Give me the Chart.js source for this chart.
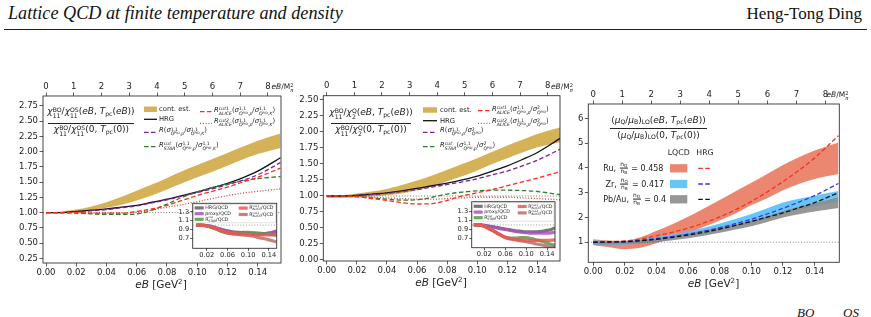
<!DOCTYPE html>
<html>
<head>
<meta charset="utf-8">
<title>Lattice QCD at finite temperature and density</title>
<script src="https://cdn.jsdelivr.net/npm/chart.js@4.4.1/dist/chart.umd.min.js"></script>
<style>
  body { margin: 0; width: 871px; height: 317px; overflow: hidden; background: #fff; position: relative;
         font-family: "DejaVu Sans", sans-serif; color: #222; }
  canvas { position: absolute; }
  .t { position: absolute; white-space: nowrap; line-height: 1; transform: translateY(-50%); }
  .ss { display: inline-flex; flex-direction: column; font-size: 0.68em; line-height: 1; vertical-align: 0.35em; }
  .sb { font-size: 0.68em; vertical-align: -0.3em; line-height: 0; }
  .sp { font-size: 0.68em; vertical-align: 0.5em; line-height: 0; }
  .pid { font-size: 0.7em; vertical-align: 0.4em; }
  .fr { display: inline-flex; flex-direction: column; align-items: center; font-size: 0.74em; line-height: 1;
        vertical-align: middle; margin: 0 1px; }
  .fr > span { display: block; padding: 0 0.5px; }
  .fr > span:first-child { border-bottom: 0.7px solid #222; }
  .fr .q { font-size: 0.72em; position: relative; top: 0.25em; }
  .bar { position: absolute; height: 0; border-top: 0.8px solid #222; }
  .hdr { position: absolute; font-family: "Liberation Serif", serif; font-size: 17px; color: #111; line-height: 1; }
</style>
</head>
<body>
<div class="hdr" style="left:8px;top:4px;font-style:italic;font-size:18.2px">Lattice QCD at finite temperature and density</div>
<div class="hdr" style="right:9px;top:5px">Heng-Tong Ding</div>
<div style="position:absolute;left:4px;top:29px;width:863px;border-top:1px solid #222"></div>
<div class="hdr" style="left:797px;top:306px;font-style:italic;font-size:13px">BO</div>
<div class="hdr" style="left:843px;top:306px;font-style:italic;font-size:13px">OS</div>

<canvas id="c1"></canvas>
<canvas id="c2"></canvas>
<canvas id="c3"></canvas>
<canvas id="i1"></canvas>
<canvas id="i2"></canvas>

<script>
// ==================== Data ====================
const mpi2 = 0.01835; // M_pi^2 in GeV^2, for the top axis
const eB = [0, 0.01, 0.02, 0.03, 0.04, 0.05, 0.06, 0.07, 0.08, 0.09, 0.10, 0.11, 0.12, 0.13, 0.14, 0.155];

const eBTicks = [0, 0.02, 0.04, 0.06, 0.08, 0.10, 0.12, 0.14];
const topTicks = [0, 1, 2, 3, 4, 5, 6, 7, 8];
const yTicks1 = [0.25, 0.5, 0.75, 1.0, 1.25, 1.5, 1.75, 2.0, 2.25, 2.5, 2.75];
const yTicks2 = [0, 0.25, 0.5, 0.75, 1.0, 1.25, 1.5, 1.75, 2.0, 2.25, 2.5];
const yTicks3 = [1, 2, 3, 4, 5, 6];
const insetXTicks = [0.02, 0.06, 0.10, 0.14];
const insetYTicks = [0.7, 0.9, 1.1, 1.3];

// panel 1: chi11^BO / chi11^OS
const contLo1 = [0.99, 1.00, 1.01, 1.04, 1.08, 1.13, 1.20, 1.28, 1.38, 1.48, 1.58, 1.67, 1.77, 1.87, 1.96, 2.06];
const contHi1 = [1.01, 1.02, 1.05, 1.10, 1.17, 1.26, 1.36, 1.46, 1.57, 1.68, 1.78, 1.88, 1.98, 2.08, 2.18, 2.30];
const hrg1    = [1.00, 1.00, 1.02, 1.04, 1.06, 1.09, 1.12, 1.17, 1.22, 1.28, 1.34, 1.41, 1.48, 1.57, 1.68, 1.90];
const proxy1  = [1.00, 1.00, 1.01, 1.03, 1.05, 1.08, 1.11, 1.16, 1.21, 1.27, 1.33, 1.39, 1.46, 1.53, 1.62, 1.82];
const star1   = [1.00, 1.00, 0.99, 0.98, 0.97, 0.97, 0.98, 1.04, 1.14, 1.25, 1.34, 1.41, 1.47, 1.52, 1.56, 1.59];
const alice1  = [1.00, 1.00, 1.00, 0.99, 0.99, 0.99, 1.02, 1.06, 1.12, 1.20, 1.28, 1.35, 1.42, 1.50, 1.58, 1.73];
const alice2  = [1.00, 1.00, 1.00, 0.99, 0.99, 0.99, 1.01, 1.04, 1.09, 1.13, 1.18, 1.23, 1.28, 1.32, 1.35, 1.39];

// panel 2: chi11^BO / chi2^Q
const contLo2 = [0.97, 0.97, 0.98, 0.99, 1.01, 1.04, 1.09, 1.15, 1.23, 1.31, 1.40, 1.50, 1.59, 1.68, 1.76, 1.84];
const contHi2 = [1.00, 1.01, 1.04, 1.07, 1.11, 1.17, 1.24, 1.32, 1.41, 1.50, 1.59, 1.69, 1.79, 1.88, 1.97, 2.07];
const hrg2    = [1.00, 1.00, 1.01, 1.03, 1.05, 1.08, 1.12, 1.16, 1.20, 1.25, 1.31, 1.39, 1.47, 1.57, 1.68, 1.90];
const proxy2  = [1.00, 1.00, 1.01, 1.02, 1.04, 1.07, 1.10, 1.14, 1.18, 1.22, 1.27, 1.33, 1.39, 1.47, 1.56, 1.73];
const star2   = [1.00, 1.00, 0.99, 0.97, 0.95, 0.935, 0.94, 0.98, 1.03, 1.06, 1.08, 1.09, 1.09, 1.085, 1.07, 1.02];
const aliceB1 = [1.00, 1.00, 0.99, 0.96, 0.93, 0.895, 0.875, 0.88, 0.93, 1.00, 1.05, 1.10, 1.16, 1.22, 1.28, 1.38];
const aliceB2 = [1.00, 1.00, 0.99, 0.98, 0.97, 0.96, 0.95, 0.95, 0.96, 0.97, 0.98, 0.98, 0.98, 0.97, 0.96, 0.94];

// panel 3: (mu_Q/mu_B)_LO
const ruLo  = [0.88, 0.80, 0.72, 0.78, 0.96, 1.16, 1.37, 1.62, 1.88, 2.16, 2.50, 2.78, 3.10, 3.35, 3.55, 3.75];
const ruHi  = [1.12, 1.07, 1.06, 1.20, 1.46, 1.73, 2.03, 2.36, 2.70, 3.06, 3.40, 3.75, 4.12, 4.43, 4.70, 5.03];
const zrLo  = [0.90, 0.89, 0.90, 0.96, 1.05, 1.13, 1.23, 1.34, 1.46, 1.60, 1.76, 1.94, 2.13, 2.30, 2.45, 2.62];
const zrHi  = [1.08, 1.05, 1.05, 1.11, 1.22, 1.32, 1.43, 1.58, 1.76, 1.94, 2.14, 2.37, 2.60, 2.76, 2.88, 3.07];
const pbLo  = [0.90, 0.90, 0.92, 0.95, 1.01, 1.08, 1.16, 1.26, 1.38, 1.51, 1.65, 1.82, 2.00, 2.13, 2.24, 2.38];
const pbHi  = [1.05, 1.03, 1.03, 1.08, 1.17, 1.26, 1.36, 1.47, 1.60, 1.74, 1.88, 2.06, 2.26, 2.43, 2.58, 2.82];
const hrgRu = [1.00, 1.01, 1.05, 1.13, 1.26, 1.40, 1.57, 1.78, 2.02, 2.31, 2.65, 3.03, 3.45, 3.90, 4.40, 5.30];
const hrgZr = [1.00, 1.01, 1.03, 1.08, 1.15, 1.23, 1.33, 1.45, 1.59, 1.75, 1.93, 2.14, 2.37, 2.62, 2.88, 3.37];
const hrgPb = [1.00, 1.01, 1.02, 1.06, 1.12, 1.20, 1.29, 1.40, 1.53, 1.68, 1.84, 2.01, 2.19, 2.39, 2.60, 3.00];

// insets: ratio to QCD
const in1Hrg    = [1.00, 1.00, 0.99, 0.97, 0.93, 0.90, 0.87, 0.85, 0.84, 0.83, 0.82, 0.81, 0.80, 0.81, 0.82, 0.87];
const in1Proxy  = [1.00, 1.00, 0.99, 0.97, 0.93, 0.89, 0.86, 0.84, 0.83, 0.82, 0.81, 0.80, 0.80, 0.81, 0.82, 0.86];
const in1Star   = [1.00, 1.00, 0.98, 0.95, 0.90, 0.85, 0.82, 0.81, 0.82, 0.84, 0.84, 0.83, 0.82, 0.81, 0.80, 0.77];
const in1Alice1 = [1.00, 1.00, 0.98, 0.95, 0.91, 0.87, 0.83, 0.81, 0.80, 0.80, 0.80, 0.79, 0.78, 0.78, 0.78, 0.79];
const in1Alice2 = [1.00, 1.00, 0.98, 0.95, 0.91, 0.87, 0.83, 0.81, 0.79, 0.78, 0.77, 0.75, 0.72, 0.70, 0.67, 0.62];
const in2Hrg    = [1.00, 1.00, 0.99, 0.97, 0.95, 0.93, 0.91, 0.89, 0.87, 0.86, 0.85, 0.85, 0.85, 0.86, 0.88, 0.93];
const in2Proxy  = [1.00, 1.00, 0.99, 0.97, 0.95, 0.92, 0.90, 0.88, 0.86, 0.84, 0.83, 0.82, 0.82, 0.82, 0.82, 0.84];
const in2Star   = [1.00, 1.00, 0.97, 0.92, 0.86, 0.79, 0.73, 0.71, 0.71, 0.72, 0.72, 0.70, 0.67, 0.64, 0.60, 0.55];
const in2Alice1 = [1.00, 1.00, 0.97, 0.91, 0.85, 0.78, 0.73, 0.70, 0.68, 0.67, 0.66, 0.66, 0.66, 0.66, 0.66, 0.67];
const in2Alice2 = [1.00, 1.00, 0.97, 0.91, 0.85, 0.78, 0.72, 0.69, 0.67, 0.65, 0.63, 0.61, 0.58, 0.56, 0.53, 0.50];

// ==================== Styles ====================
const GOLD = '#d5b257', BLACK = '#111', PURPLE = '#7b1fa2', GREEN = '#2e7d32', RED = '#ff2a1a', DOTRED = '#d4402e';
const RU = 'rgba(232,118,92,0.88)', ZR = 'rgba(95,195,248,0.95)', PB = 'rgba(140,140,140,0.9)';
const DASH = [4.5, 2.5], DOT = [1, 1.8];

// ==================== Helpers ====================
const pts = ys => eB.map((x, i) => ({ x: x, y: ys[i] }));

function line(ys, color, dash, width) {
    return { data: pts(ys), borderColor: color, borderDash: dash || [], borderWidth: width || 1.3,
             pointRadius: 0, fill: false, cubicInterpolationMode: 'monotone' };
}

function band(lo, hi, color) {
    return [
        { data: pts(lo), borderColor: 'transparent', borderWidth: 0, pointRadius: 0, fill: false, cubicInterpolationMode: 'monotone' },
        { data: pts(hi), borderColor: 'transparent', borderWidth: 0, pointRadius: 0, fill: '-1', backgroundColor: color, cubicInterpolationMode: 'monotone' }
    ];
}

function unity(xmin, xmax, width) {
    return { data: [{ x: xmin, y: 1 }, { x: xmax, y: 1 }], borderColor: '#555', borderDash: DOT,
             borderWidth: width || 0.8, pointRadius: 0, fill: false };
}

const fixTicks = list => s => { s.ticks = list.map(v => ({ value: v })); };
const tickGrid = len => ({ drawOnChartArea: false, tickLength: len, tickColor: '#333', tickWidth: 0.8 });

function mainScales(p) {
    const tf = { family: 'DejaVu Sans', size: 8.5 };
    return {
        x: {
            type: 'linear', position: 'bottom', min: p.xmin, max: p.xmax,
            afterBuildTicks: fixTicks(eBTicks), afterFit: s => { s.height = p.bottomH; },
            ticks: { font: tf, color: '#222', padding: 1, maxRotation: 0, autoSkip: false, callback: v => v.toFixed(2) },
            grid: tickGrid(3.5), border: { display: false }
        },
        xt: {
            type: 'linear', position: 'top', min: p.xmin / mpi2, max: p.xmax / mpi2,
            afterBuildTicks: fixTicks(topTicks), afterFit: s => { s.height = p.topH; },
            ticks: { font: tf, color: '#222', padding: 1, maxRotation: 0, autoSkip: false, callback: v => String(v) },
            grid: tickGrid(3.5), border: { display: false }
        },
        y: {
            type: 'linear', min: p.ymin, max: p.ymax,
            afterBuildTicks: fixTicks(p.yTicks), afterFit: s => { s.width = p.leftW; },
            ticks: { font: tf, color: '#222', padding: 1.5, autoSkip: false, callback: v => v.toFixed(p.dec) },
            grid: tickGrid(3.5), border: { display: false }
        }
    };
}

function insetScales(p) {
    const tf = { family: 'DejaVu Sans', size: 6.7 };
    return {
        x: {
            type: 'linear', min: p.xmin, max: p.xmax,
            afterBuildTicks: fixTicks(insetXTicks), afterFit: s => { s.height = p.bottomH; },
            ticks: { font: tf, color: '#222', padding: 0.5, maxRotation: 0, autoSkip: false, callback: v => v.toFixed(2) },
            grid: tickGrid(2.5), border: { display: false }
        },
        y: {
            type: 'linear', min: p.ymin, max: p.ymax,
            afterBuildTicks: fixTicks(insetYTicks), afterFit: s => { s.width = p.leftW; },
            ticks: { font: tf, color: '#222', padding: 1, autoSkip: false, callback: v => v.toFixed(1) },
            grid: tickGrid(2.5), border: { display: false }
        }
    };
}

// legend keys, given in page coordinates
function drawKeys(ctx, ox, oy, keys) {
    keys.forEach(k => {
        ctx.save();
        if (k.h) {
            ctx.fillStyle = k.color;
            ctx.fillRect(k.x1 - ox, k.y - k.h / 2 - oy, k.x2 - k.x1, k.h);
        } else {
            ctx.strokeStyle = k.color;
            ctx.lineWidth = k.w || 1.3;
            ctx.setLineDash(k.dash || []);
            ctx.beginPath();
            ctx.moveTo(k.x1 - ox, k.y - oy);
            ctx.lineTo(k.x2 - ox, k.y - oy);
            ctx.stroke();
        }
        ctx.restore();
    });
}

// small label with stacked sup/sub, for the inset legends
function richLabel(ctx, x, y, base, sup, sub, tail, size) {
    ctx.font = size + 'px "DejaVu Sans"';
    ctx.textBaseline = 'middle';
    ctx.fillText(base, x, y);
    x += ctx.measureText(base).width;
    if (sup) {
        ctx.font = (size * 0.62) + 'px "DejaVu Sans"';
        ctx.fillText(sup, x, y - size * 0.33);
        ctx.fillText(sub, x, y + size * 0.3);
        x += Math.max(ctx.measureText(sup).width, ctx.measureText(sub).width);
        ctx.font = size + 'px "DejaVu Sans"';
        ctx.fillText(tail, x, y);
    }
}

function insetLegend(c, items) {
    const a = c.chartArea, ctx = c.ctx;
    ctx.save();
    ctx.fillStyle = 'rgba(255,255,255,0.85)';
    ctx.strokeStyle = '#ccc';
    ctx.lineWidth = 0.6;
    ctx.beginPath();
    ctx.roundRect(a.left + 1, a.top + 1, a.width - 2, 18.5, 1.5);
    ctx.fill();
    ctx.stroke();
    items.forEach(it => {
        ctx.fillStyle = it.color;
        ctx.fillRect(a.left + it.dx, a.top + it.dy - 1.6, 9, 3.2);
        ctx.fillStyle = '#222';
        richLabel(ctx, a.left + it.dx + 10.5, a.top + it.dy, it.base, it.sup, it.sub, it.tail, 4.8);
    });
    ctx.restore();
}

function makeChart(id, box, datasets, scales, extra) {
    const cv = document.getElementById(id);
    cv.width = box.w;
    cv.height = box.h;
    cv.style.left = box.x + 'px';
    cv.style.top = box.y + 'px';
    return new Chart(cv, {
        type: 'line',
        data: { datasets: datasets },
        options: {
            responsive: false, animation: false, devicePixelRatio: 1, events: [],
            layout: { padding: box.pad },
            plugins: { legend: { display: false }, tooltip: { enabled: false } },
            scales: scales
        },
        plugins: [{
            id: 'frame',
            beforeDraw(c) {
                if (box.white) {
                    const a = c.chartArea;
                    c.ctx.fillStyle = '#fff';
                    c.ctx.fillRect(a.left, a.top, a.width, a.height);
                }
            },
            afterDraw(c) {
                const a = c.chartArea, ctx = c.ctx;
                if (extra) extra(c);
                ctx.save();
                ctx.strokeStyle = '#333';
                ctx.lineWidth = 0.9;
                ctx.strokeRect(a.left, a.top, a.width, a.height);
                ctx.restore();
            }
        }]
    });
}

// ==================== Panel 1 ====================
const p1 = { xmin: -0.002, xmax: 0.1554, ymin: 0.173, ymax: 2.914, yTicks: yTicks1, dec: 2, leftW: 43, topH: 26, bottomH: 37 };
makeChart('c1', { x: 0, y: 70, w: 300, h: 230, pad: { left: 0, top: 0, right: 19, bottom: 0 } }, [
    line(alice1, RED, DASH),
    line(star1, GREEN, DASH),
    line(proxy1, PURPLE, DASH),
    line(hrg1, BLACK),
    line(alice2, DOTRED, DOT),
    unity(p1.xmin, p1.xmax),
    ...band(contLo1, contHi1, GOLD)
], mainScales(p1), c => drawKeys(c.ctx, 0, 70, [
    { x1: 144, x2: 157, y: 109.3, h: 5.5, color: GOLD },
    { x1: 144, x2: 157, y: 119.3, color: BLACK },
    { x1: 144, x2: 157, y: 132.3, color: PURPLE, dash: DASH },
    { x1: 144, x2: 157, y: 146.7, color: GREEN, dash: DASH },
    { x1: 200, x2: 212, y: 111.7, color: RED, dash: DASH },
    { x1: 200, x2: 212, y: 123.3, color: DOTRED, dash: DOT }
]));

// ==================== Panel 2 ====================
const p2 = { xmin: -0.0023, xmax: 0.155, ymin: -0.016, ymax: 2.567, yTicks: yTicks2, dec: 2, leftW: 33.3, topH: 25.7, bottomH: 39 };
makeChart('c2', { x: 290, y: 70, w: 292, h: 230, pad: { left: 0, top: 0, right: 22, bottom: 0 } }, [
    line(aliceB1, RED, DASH),
    line(star2, GREEN, DASH),
    line(proxy2, PURPLE, DASH),
    line(hrg2, BLACK),
    line(aliceB2, DOTRED, DOT),
    unity(p2.xmin, p2.xmax),
    ...band(contLo2, contHi2, GOLD)
], mainScales(p2), c => drawKeys(c.ctx, 290, 70, [
    { x1: 423, x2: 437, y: 110, h: 5.5, color: GOLD },
    { x1: 423, x2: 437, y: 120.7, color: BLACK },
    { x1: 423, x2: 437, y: 132.3, color: PURPLE, dash: DASH },
    { x1: 423, x2: 437, y: 146.7, color: GREEN, dash: DASH },
    { x1: 478, x2: 490, y: 110.7, color: RED, dash: DASH },
    { x1: 478, x2: 490, y: 123.3, color: DOTRED, dash: DOT }
]));

// ==================== Panel 3 ====================
const p3 = { xmin: -0.0031, xmax: 0.1556, ymin: 0.19, ymax: 6.58, yTicks: yTicks3, dec: 0, leftW: 23.3, topH: 29, bottomH: 37.7 };
makeChart('c3', { x: 565, y: 75, w: 306, h: 225, pad: { left: 0, top: 0, right: 31.7, bottom: 0 } }, [
    line(hrgPb, BLACK, DASH),
    line(hrgZr, '#3636f2', DASH),
    line(hrgRu, '#ee3424', DASH),
    unity(p3.xmin, p3.xmax, 0.7),
    ...band(pbLo, pbHi, PB),
    ...band(zrLo, zrHi, ZR),
    ...band(ruLo, ruHi, RU)
], mainScales(p3), c => drawKeys(c.ctx, 565, 75, [
    { x1: 670, x2: 687.3, y: 168.3, h: 8.3, color: RU },
    { x1: 670, x2: 687.3, y: 184, h: 8.3, color: ZR },
    { x1: 670, x2: 687.3, y: 199.3, h: 8.3, color: PB },
    { x1: 698.3, x2: 711.7, y: 168.3, color: '#ee3424', dash: DASH },
    { x1: 698.3, x2: 711.7, y: 184, color: '#3636f2', dash: DASH },
    { x1: 698.3, x2: 711.7, y: 199.3, color: BLACK, dash: DASH }
]));

// ==================== Insets ====================
const inHRG = 'rgba(95,95,95,0.85)', inPROXY = 'rgba(170,80,190,0.85)', inSTAR = 'rgba(85,155,75,0.85)',
      inA1 = 'rgba(240,85,80,0.85)', inA2 = 'rgba(185,110,105,0.85)';
const inItems = [
    { dx: 2, dy: 4.6, color: inHRG, base: 'HRG/QCD' },
    { dx: 2, dy: 10.4, color: inPROXY, base: 'proxy/QCD' },
    { dx: 2, dy: 16, color: inSTAR, base: 'R', sup: 'cut', sub: 'STAR', tail: '/QCD' },
    { dx: 46, dy: 4.8, color: inA1, base: 'R', sup: 'cut1', sub: 'ALICE', tail: '/QCD' },
    { dx: 46, dy: 11.2, color: inA2, base: 'R', sup: 'cut2', sub: 'ALICE', tail: '/QCD' }
];

const q1 = { xmin: -0.007, xmax: 0.155, ymin: 0.48, ymax: 1.49, leftW: 27.7, bottomH: 13.7 };
makeChart('i1', { x: 165, y: 196, w: 118, h: 66, white: true, pad: { left: 0, top: 7.3, right: 6.3, bottom: 0 } }, [
    line(in1Alice1, inA1, [], 3.2),
    line(in1Alice2, inA2, [], 3.2),
    line(in1Star, inSTAR, [], 3.2),
    line(in1Proxy, inPROXY, [], 3.2),
    line(in1Hrg, inHRG, [], 3.2),
    unity(q1.xmin, q1.xmax, 0.6)
], insetScales(q1), c => insetLegend(c, inItems));

const q2 = { xmin: -0.004, xmax: 0.155, ymin: 0.5, ymax: 1.51, leftW: 27.7, bottomH: 13.3 };
makeChart('i2', { x: 444, y: 195, w: 118, h: 66, white: true, pad: { left: 0, top: 6.7, right: 7, bottom: 0 } }, [
    line(in2Alice1, inA1, [], 3.2),
    line(in2Alice2, inA2, [], 3.2),
    line(in2Star, inSTAR, [], 3.2),
    line(in2Proxy, inPROXY, [], 3.2),
    line(in2Hrg, inHRG, [], 3.2),
    unity(q2.xmin, q2.xmax, 0.6)
], insetScales(q2), c => insetLegend(c, inItems));

// ==================== Text overlays ====================
function put(html, x, y, size, center) {
    const d = document.createElement('div');
    d.className = 't';
    d.style.left = x + 'px';
    d.style.top = y + 'px';
    d.style.fontSize = size + 'px';
    if (center) d.style.transform = 'translate(-50%,-50%)';
    d.innerHTML = html;
    document.body.appendChild(d);
}
function bar(x, y, w) {
    const d = document.createElement('div');
    d.className = 'bar';
    d.style.left = x + 'px';
    d.style.top = y + 'px';
    d.style.width = w + 'px';
    document.body.appendChild(d);
}
const ss = (a, b) => `<span class="ss"><span>${a}</span><span>${b}</span></span>`;
const pid = s => `<i>Q</i><span class="pid">PID</span>${s ? ',' + s : ''}`;
const sig11 = s => `<i>σ</i>${ss('1,1', pid(s))}`;
const sig2 = `<i>σ</i>${ss('2', pid(''))}`;
const chi = (a, b) => `<i>χ</i>${ss(a, b)}`;
const axisTitle = `<i>eB</i> [GeV<span class="sp">2</span>]`;
const topTitle = `<i>eB</i>/M${ss('2', '<i>π</i>')}`;

// panel 1 labels
put(`${chi('BO', '11')}/${chi('OS', '11')}(<i>eB</i>, <i>T</i><span class="sb">pc</span>(<i>eB</i>))`, 91, 113, 9, true);
bar(48, 122.5, 86);
put(`${chi('BO', '11')}/${chi('OS', '11')}(0, <i>T</i><span class="sb">pc</span>(0))`, 91.5, 131, 9, true);
put('cont. est.', 159, 109.3, 6.8);
put('HRG', 159, 119.3, 6.8);
put(`<i>R</i>(${sig11('<i>p</i>')}/${sig11('<i>K</i>')})`, 159, 132.3, 6.8);
put(`<i>R</i>${ss('<i>cut</i>', '<i>STAR</i>')}(${sig11('<i>p</i>')}/${sig11('<i>K</i>')})`, 159, 146.7, 6.8);
put(`<i>R</i>${ss('<i>cut1</i>', '<i>ALICE</i>')}(${sig11('<i>p</i>')}/${sig11('<i>K</i>')})`, 214, 111.7, 6.8);
put(`<i>R</i>${ss('<i>cut2</i>', '<i>ALICE</i>')}(${sig11('<i>p</i>')}/${sig11('<i>K</i>')})`, 214, 123.3, 6.8);
put(axisTitle, 161, 283.5, 10.5, true);
put(topTitle, 271.5, 87.5, 7.5);

// panel 2 labels
put(`${chi('BO', '11')}/${chi('Q', '2')}(<i>eB</i>, <i>T</i><span class="sb">pc</span>(<i>eB</i>))`, 371, 114, 9, true);
bar(331, 122.5, 80);
put(`${chi('BO', '11')}/${chi('Q', '2')}(0, <i>T</i><span class="sb">pc</span>(0))`, 371, 131, 9, true);
put('cont. est.', 440, 110, 6.8);
put('HRG', 440, 120.7, 6.8);
put(`<i>R</i>(${sig11('<i>p</i>')}/${sig2})`, 440, 132.3, 6.8);
put(`<i>R</i>${ss('<i>cut</i>', '<i>STAR</i>')}(${sig11('<i>p</i>')}/${sig2})`, 440, 146.7, 6.8);
put(`<i>R</i>${ss('<i>cut1</i>', '<i>ALICE</i>')}(${sig11('<i>p</i>')}/${sig2})`, 492, 110.7, 6.8);
put(`<i>R</i>${ss('<i>cut2</i>', '<i>ALICE</i>')}(${sig11('<i>p</i>')}/${sig2})`, 492, 123.3, 6.8);
put(axisTitle, 441, 282, 10.5, true);
put(topTitle, 551, 87.5, 7.5);

// panel 3 labels
const muLO = `(<i>μ</i><span class="sb">Q</span>/<i>μ</i><span class="sb">B</span>)<span class="sb">LO</span>`;
put(`${muLO}(<i>eB</i>, <i>T</i><span class="sb">pc</span>(<i>eB</i>))`, 658.5, 120, 9, true);
bar(610, 127.5, 97);
put(`${muLO}(0, <i>T</i><span class="sb">pc</span>(0))`, 658.5, 134.5, 9, true);
put('LQCD', 678.7, 152.7, 7.8, true);
put('HRG', 705, 152.7, 7.8, true);
const nqnb = `<span class="fr"><span>n<span class="q">Q</span></span><span>n<span class="q">B</span></span></span>`;
put(`Ru, ${nqnb} = 0.458`, 603.3, 168.3, 8);
put(`Zr, ${nqnb} = 0.417`, 605.5, 184, 8);
put(`Pb/Au, ${nqnb} = 0.4`, 603.3, 199.3, 8);
put(axisTitle, 713.5, 283, 10.5, true);
put(topTitle, 826.5, 95.5, 7.5);
</script>
</body>
</html>
